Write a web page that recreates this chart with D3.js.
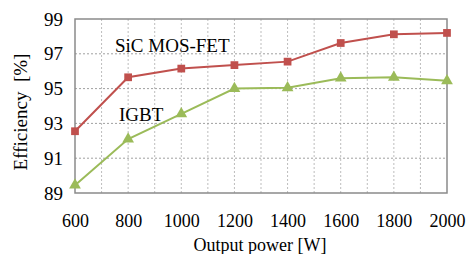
<!DOCTYPE html>
<html>
<head>
<meta charset="utf-8">
<script src="https://cdn.jsdelivr.net/npm/d3@7"></script>
<style>
body { margin: 0; background: #fff; }
text { font-family: "Liberation Serif", "Times New Roman", serif; fill: #000; }
</style>
</head>
<body>
<script>
var power = [600, 800, 1000, 1200, 1400, 1600, 1800, 2000]
var sicEff = [92.55, 95.65, 96.15, 96.35, 96.55, 97.62, 98.12, 98.2]
var igbtEff = [89.45, 92.1, 93.55, 95.0, 95.05, 95.6, 95.65, 95.45]
var yTicks = [89, 91, 93, 95, 97, 99]
var xTicks = [600, 800, 1000, 1200, 1400, 1600, 1800, 2000]

var W = 467, H = 254
var plotL = 75, plotR = 447, plotT = 19, plotB = 193

var svg = d3.select("body").append("svg")
	.attr("width", W)
	.attr("height", H)

var x = d3.scaleLinear().domain([600, 2000]).range([plotL, plotR])
var y = d3.scaleLinear().domain([89, 99]).range([plotB, plotT])

// grid lines
var vGrid = d3.range(700, 2000, 100)
svg.selectAll(".vgrid").data(vGrid).enter().append("line")
	.attr("x1", function(d) { return x(d) }).attr("x2", function(d) { return x(d) })
	.attr("y1", plotT).attr("y2", plotB)
	.attr("stroke", "#bdbdbd").attr("stroke-width", 1).attr("stroke-dasharray", "2,2")

svg.selectAll(".hgrid").data([91, 93, 95, 97]).enter().append("line")
	.attr("x1", plotL).attr("x2", plotR)
	.attr("y1", function(d) { return y(d) }).attr("y2", function(d) { return y(d) })
	.attr("stroke", "#a0a0a0").attr("stroke-width", 1).attr("stroke-dasharray", "2,2")

// frame
svg.append("rect")
	.attr("x", plotL).attr("y", plotT)
	.attr("width", plotR - plotL).attr("height", plotB - plotT)
	.attr("fill", "none").attr("stroke", "#8a8a8a").attr("stroke-width", 1.5)

// axes via d3 axis, domain hidden
var yAxis = svg.append("g").attr("transform", "translate(" + plotL + ",0)")
	.call(d3.axisLeft(y).tickValues(yTicks).tickFormat(d3.format("d")).tickSize(0).tickPadding(12))
yAxis.select(".domain").remove()
yAxis.attr("font-family", null).attr("font-size", null)
yAxis.selectAll("text").style("font-size", "19px").style("font-family", "Liberation Serif")

var xAxis = svg.append("g").attr("transform", "translate(0," + plotB + ")")
	.call(d3.axisBottom(x).tickValues(xTicks).tickFormat(d3.format("d")).tickSize(0).tickPadding(21))
xAxis.select(".domain").remove()
xAxis.attr("font-family", null).attr("font-size", null)
xAxis.selectAll("text").style("font-size", "18px").style("font-family", "Liberation Serif")

// series
var series = [
	{ name: "SiC MOS-FET", values: sicEff, color: "#c0504d", marker: d3.symbolSquare },
	{ name: "IGBT", values: igbtEff, color: "#9bbb59", marker: d3.symbolTriangle }
]

var line = d3.line()
	.x(function(d, i) { return x(power[i]) })
	.y(function(d) { return y(d) })

series.forEach(function(s) {
	svg.append("path")
		.attr("d", line(s.values))
		.attr("fill", "none")
		.attr("stroke", s.color)
		.attr("stroke-width", 2)

	svg.selectAll(null).data(s.values).enter().append("path")
		.attr("transform", function(d, i) { return "translate(" + x(power[i]) + "," + y(d) + ")" })
		.attr("d", d3.symbol().type(s.marker).size(60))
		.attr("fill", s.color)
})

// series labels
svg.append("text").attr("x", 115).attr("y", 52).style("font-size", "19px").text("SiC MOS-FET")
svg.append("text").attr("x", 119).attr("y", 121).style("font-size", "19px").text("IGBT")

// axis titles
svg.append("text")
	.attr("x", 260).attr("y", 251)
	.attr("text-anchor", "middle")
	.style("font-size", "18px")
	.text("Output power [W]")

svg.append("text")
	.attr("transform", "translate(27,112) rotate(-90)")
	.attr("text-anchor", "middle")
	.style("font-size", "19px")
	.style("white-space", "pre")
	.text("Efficiency  [%]")
</script>
</body>
</html>
